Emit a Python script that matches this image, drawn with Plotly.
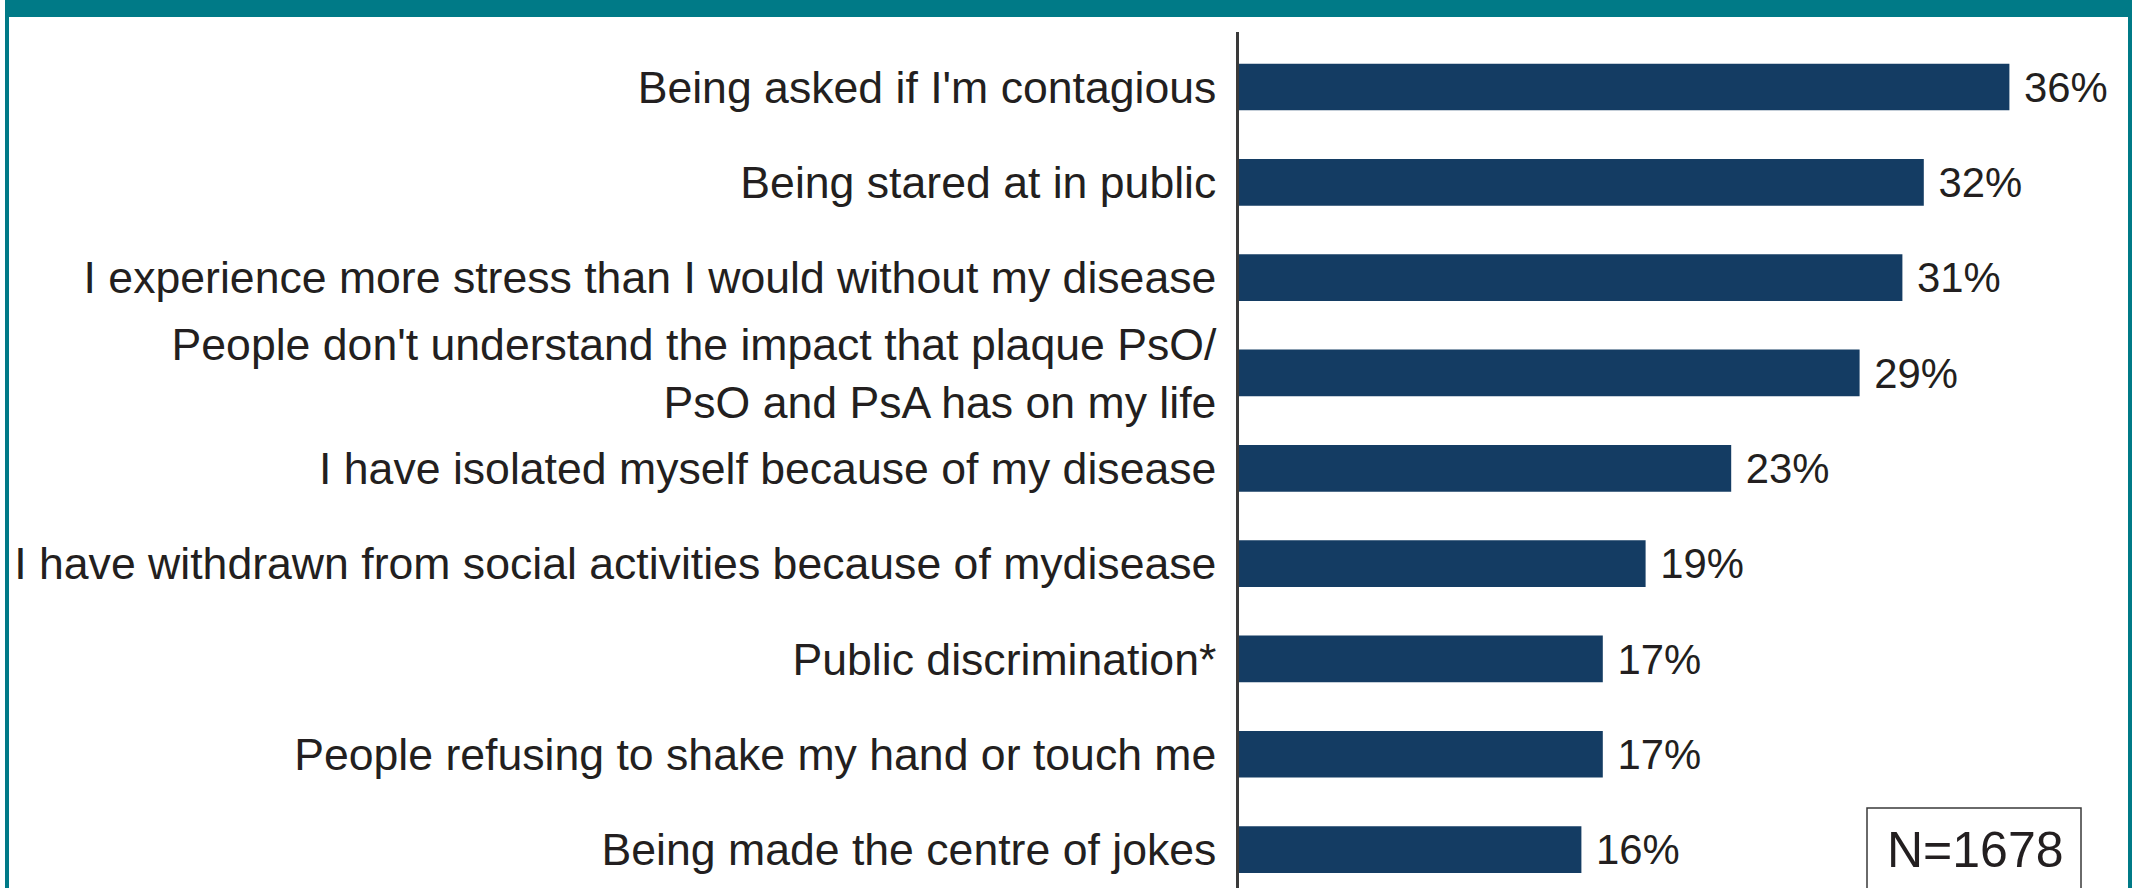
import plotly.graph_objects as go

categories = [
    "Being asked if I'm contagious",
    "Being stared at in public",
    "I experience more stress than I would without my disease",
    "People don't understand the impact that plaque PsO/<br>PsO and PsA has on my life",
    "I have isolated myself because of my disease",
    "I have withdrawn from social activities because of mydisease",
    "Public discrimination*",
    "People refusing to shake my hand or touch me",
    "Being made the centre of jokes",
]
values = [36, 32, 31, 29, 23, 19, 17, 17, 16]
n_label = "N=1678"

W, H = 2151, 888
PL, PR, PT, PB = 1239, 2125, 32, 888  # plot area in pixels

def px(x):
    return (x - PL) / (PR - PL)

def py(y):
    return (PB - y) / (PB - PT)

TEAL = "#007A87"
BAR = "#143C63"
TXT = "#231F20"
FONT = "Liberation Sans, Arial, sans-serif"

fig = go.Figure(go.Bar(
    x=values,
    y=categories,
    orientation="h",
    marker=dict(color=BAR, line=dict(width=0)),
    width=0.49,
    text=values,
    texttemplate=" %{x}%",
    textposition="outside",
    textfont=dict(family=FONT, size=43, color=TXT),
    cliponaxis=False,
))

fig.update_layout(
    width=W, height=H,
    margin=dict(l=PL, r=W - PR, t=PT, b=H - PB, pad=0),
    paper_bgcolor="white", plot_bgcolor="white",
    showlegend=False,
    font=dict(family=FONT, color=TXT),
    xaxis=dict(range=[0, (PR - PL) / 21.40], visible=False, fixedrange=True),
    yaxis=dict(
        type="category",
        categoryorder="array", categoryarray=categories,
        range=[8.403, -0.577],
        showline=True, linecolor="#3a3a3a", linewidth=2.5,
        ticks="outside", ticklen=11, tickcolor="rgba(0,0,0,0)",
        tickfont=dict(family=FONT, size=44.6, color=TXT),
        showgrid=False, zeroline=False, automargin=False,
    ),
    shapes=[
        # teal header band
        dict(type="rect", xref="paper", yref="paper",
             x0=px(5), x1=px(2132), y0=py(17), y1=py(-5),
             fillcolor=TEAL, line=dict(width=0), layer="above"),
        # left / right frame lines
        dict(type="line", xref="paper", yref="paper",
             x0=px(7), x1=px(7), y0=py(900), y1=py(0),
             line=dict(color=TEAL, width=4)),
        dict(type="line", xref="paper", yref="paper",
             x0=px(2130), x1=px(2130), y0=py(900), y1=py(0),
             line=dict(color=TEAL, width=4)),
        # N box
        dict(type="rect", xref="paper", yref="paper",
             x0=px(1867), x1=px(2081), y0=py(910), y1=py(808),
             fillcolor="white", line=dict(color="#3a3a3a", width=1.5)),
    ],
    annotations=[
        dict(text=n_label, xref="paper", yref="paper",
             x=px(1975), y=py(850), xanchor="center", yanchor="middle",
             showarrow=False, font=dict(family=FONT, size=50, color=TXT)),
    ],
)

fig.write_html("out.html")
